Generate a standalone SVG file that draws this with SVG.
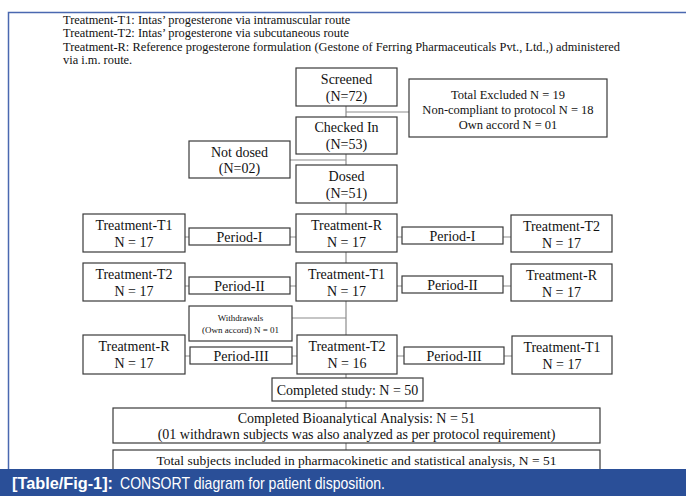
<svg xmlns="http://www.w3.org/2000/svg" width="686" height="496" viewBox="0 0 686 496">
<style>
.bx{fill:#fff;stroke:#3a3a3a;stroke-width:1.2}
.cn{stroke:#8c8c8c;stroke-width:1.2;fill:none}
.t{font-family:"Liberation Serif","Times New Roman",serif;font-size:14px;fill:#111;text-anchor:middle}
.s{font-size:12.5px}
.m{font-size:14px}
.w{font-size:9px}
.hd{font-family:"Liberation Serif","Times New Roman",serif;font-size:12.4px;fill:#111}
.cap{font-family:"Liberation Sans",Arial,sans-serif;font-size:17px;fill:#fff}
</style>
<rect x="0" y="0" width="686" height="496" fill="#fff"/>
<path d="M8.5 469 V12.5 H686" stroke="#4a68b0" stroke-width="1.5" fill="none"/>
<g id="legend">
<text class="hd" x="63" y="23.5">Treatment-T1: Intas’ progesterone via intramuscular route</text>
<text class="hd" x="63" y="37">Treatment-T2: Intas’ progesterone via subcutaneous route</text>
<text class="hd" x="63" y="50.5">Treatment-R: Reference progesterone formulation (Gestone of Ferring Pharmaceuticals Pvt., Ltd.,) administered</text>
<text class="hd" x="63" y="64">via i.m. route.</text>
</g>
<g id="connectors">
<line class="cn" x1="346" y1="106" x2="346" y2="450"/>
<line class="cn" x1="346" y1="112" x2="409" y2="112"/>
<line class="cn" x1="290" y1="160" x2="346" y2="160"/>
<line class="cn" x1="292" y1="318" x2="346" y2="318"/>
<line class="cn" x1="185" y1="237" x2="511" y2="237"/>
<line class="cn" x1="185" y1="286" x2="511" y2="286"/>
<line class="cn" x1="185" y1="356" x2="512" y2="356"/>
</g>
<g id="screened"><rect class="bx" x="296" y="68" width="101" height="38"/><text class="t" x="346.5" y="84">Screened</text><text class="t" x="346.5" y="101">(N=72)</text></g>
<g id="excluded"><rect class="bx" x="409" y="79" width="198" height="58"/><text class="t s" x="508" y="99">Total Excluded N = 19</text><text class="t s" x="508" y="114">Non-compliant  to protocol  N = 18</text><text class="t s" x="508" y="129">Own accord N = 01</text></g>
<g id="checkedin"><rect class="bx" x="296" y="117" width="101" height="37"/><text class="t" x="346.5" y="132">Checked In</text><text class="t" x="346.5" y="149">(N=53)</text></g>
<g id="notdosed"><rect class="bx" x="189" y="141" width="101" height="37"/><text class="t" x="239.5" y="157">Not dosed</text><text class="t" x="239.5" y="173">(N=02)</text></g>
<g id="dosed"><rect class="bx" x="296" y="165" width="101" height="38"/><text class="t" x="346.5" y="181">Dosed</text><text class="t" x="346.5" y="198">(N=51)</text></g>

<g id="r1-left"><rect class="bx" x="83" y="214" width="102" height="38"/><text class="t" x="134" y="230">Treatment-T1</text><text class="t" x="134" y="247">N = 17</text></g>
<g id="r1-pl"><rect class="bx" x="189" y="228" width="101" height="17"/><text class="t" x="239.5" y="241.5">Period-I</text></g>
<g id="r1-center"><rect class="bx" x="296" y="214" width="101" height="38"/><text class="t" x="346.5" y="230">Treatment-R</text><text class="t" x="346.5" y="247">N = 17</text></g>
<g id="r1-pr"><rect class="bx" x="402" y="227" width="101" height="17"/><text class="t" x="452.5" y="240.5">Period-I</text></g>
<g id="r1-right"><rect class="bx" x="511" y="215" width="101" height="37"/><text class="t" x="561.5" y="231">Treatment-T2</text><text class="t" x="561.5" y="248">N = 17</text></g>

<g id="r2-left"><rect class="bx" x="83" y="263" width="102" height="38"/><text class="t" x="134" y="279">Treatment-T2</text><text class="t" x="134" y="296">N = 17</text></g>
<g id="r2-pl"><rect class="bx" x="189" y="277" width="101" height="17"/><text class="t" x="239.5" y="290.5">Period-II</text></g>
<g id="r2-center"><rect class="bx" x="296" y="263" width="101" height="38"/><text class="t" x="346.5" y="279">Treatment-T1</text><text class="t" x="346.5" y="296">N = 17</text></g>
<g id="r2-pr"><rect class="bx" x="402" y="276" width="101" height="17"/><text class="t" x="452.5" y="289.5">Period-II</text></g>
<g id="r2-right"><rect class="bx" x="511" y="264" width="101" height="37"/><text class="t" x="561.5" y="280">Treatment-R</text><text class="t" x="561.5" y="297">N = 17</text></g>

<g id="withdrawals"><rect class="bx" x="189" y="306" width="103" height="35"/><text class="t w" x="240.5" y="320.5">Withdrawals</text><text class="t w" x="240.5" y="333">(Own accord) N = 01</text></g>

<g id="r3-left"><rect class="bx" x="83" y="335" width="102" height="39"/><text class="t" x="134" y="351">Treatment-R</text><text class="t" x="134" y="368">N = 17</text></g>
<g id="r3-pl"><rect class="bx" x="190" y="347" width="102" height="17"/><text class="t" x="241" y="360.5">Period-III</text></g>
<g id="r3-center"><rect class="bx" x="297" y="335" width="100" height="39"/><text class="t" x="347" y="351">Treatment-T2</text><text class="t" x="347" y="368">N = 16</text></g>
<g id="r3-pr"><rect class="bx" x="404" y="347" width="100" height="17"/><text class="t" x="454" y="360.5">Period-III</text></g>
<g id="r3-right"><rect class="bx" x="512" y="336" width="100" height="38"/><text class="t" x="562" y="352">Treatment-T1</text><text class="t" x="562" y="369">N = 17</text></g>

<g id="completed"><rect class="bx" x="272" y="378" width="151" height="23"/><text class="t" x="347.5" y="394.5">Completed study: N = 50</text></g>
<g id="bioanalytical"><rect class="bx" x="113" y="408" width="487" height="35"/><text class="t m" x="356.5" y="422.5">Completed Bioanalytical Analysis: N = 51</text><text class="t m" x="356.5" y="438.5">(01 withdrawn subjects was also analyzed as per protocol  requirement)</text></g>
<g id="total"><rect class="bx" x="113" y="450" width="487" height="30"/><text class="t" style="font-size:13.5px" x="356.5" y="465">Total subjects included in pharmacokinetic and statistical analysis, N = 51</text></g>

<g id="caption">
<rect x="0" y="469" width="686" height="27" fill="#2a4f98"/>
<text class="cap" x="12" y="489" font-weight="bold" textLength="101" lengthAdjust="spacingAndGlyphs">[Table/Fig-1]:</text>
<text class="cap" x="120" y="489" textLength="265" lengthAdjust="spacingAndGlyphs">CONSORT diagram for patient disposition.</text>
</g>
</svg>
